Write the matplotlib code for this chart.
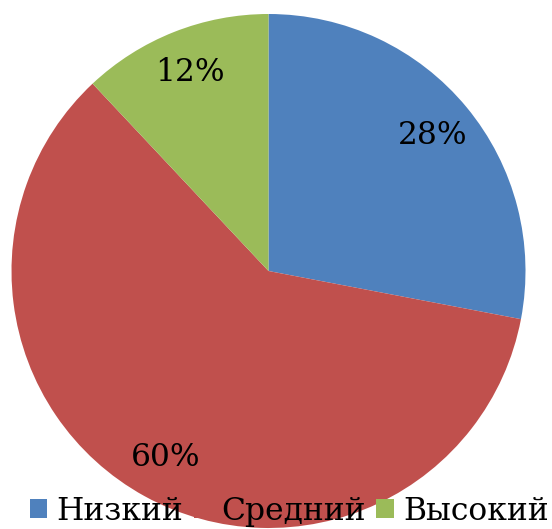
import matplotlib
matplotlib.use("Agg")
import matplotlib.pyplot as plt
from matplotlib.patches import Patch

categories = ["Низкий", "Средний", "Высокий"]
values = [28, 60, 12]
colors = ["#4F81BD", "#C0504D", "#9BBB59"]

plt.rcParams['font.family'] = ['DejaVu Serif']

W, H = 552, 529
fig = plt.figure(figsize=(W / 100, H / 100), dpi=100)
cx, cy, r = 268.5, 271, 257
ax = fig.add_axes([(cx - r) / W, (H - cy - r) / H, 2 * r / W, 2 * r / H])
wedges, texts, autotexts = ax.pie(values, colors=colors, startangle=90, counterclock=False,
                                  autopct='%1.0f%%', pctdistance=0.83,
                                  wedgeprops=dict(linewidth=0),
                                  textprops=dict(fontsize=22.5, color='black'))
for w in wedges:
    w.set_clip_on(False)
ax.set_xlim(-1, 1)
ax.set_ylim(-1, 1)
ax.set_aspect('equal')
ax.axis('off')

handles = [Patch(facecolor=c, edgecolor='none') for c in colors]
fig.legend(handles, categories, loc='lower center', bbox_to_anchor=(0.524, -0.02), ncol=3,
           frameon=False, fontsize=22.6, handlelength=0.55, handleheight=0.55,
           handletextpad=0.3, columnspacing=0.35, borderaxespad=0)

fig.savefig("out.png", dpi=100)
